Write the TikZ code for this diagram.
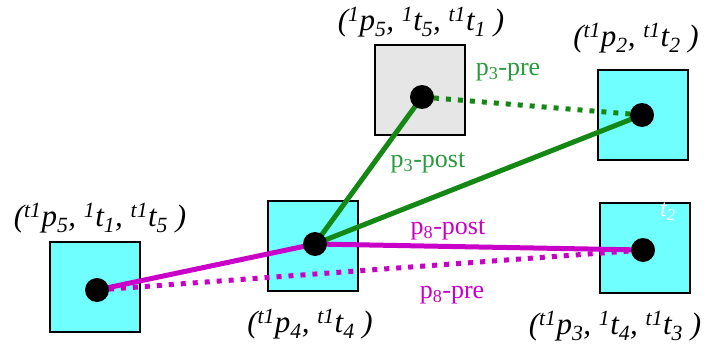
\documentclass[tikz,border=0pt]{standalone}
\usepackage{fontspec}
\setmainfont{Liberation Serif}
\definecolor{cyanfill}{RGB}{112,255,255}
\definecolor{grayfill}{RGB}{230,230,230}
\definecolor{pgreen}{RGB}{20,135,20}
\definecolor{ptext}{RGB}{40,155,60}
\definecolor{pmag}{RGB}{200,0,200}
\newcommand\sUp[1]{\textsuperscript{#1}}
\newcommand\sDn[1]{\textsubscript{#1}}
\tikzset{
  cell/.style={draw=black,line width=2.4pt,minimum width=90pt,minimum height=90pt,inner sep=0pt,fill=cyanfill},
  dotnode/.style={circle,fill=black,minimum size=24pt,inner sep=0pt},
  tuple/.style={font=\fontsize{31}{34}\selectfont\itshape,inner sep=0pt},
  plab/.style={font=\fontsize{26}{28}\selectfont,inner sep=0pt},
  gsolid/.style={pgreen,line width=5pt},
  gdot/.style={pgreen,line width=5pt,dash pattern=on 5pt off 7pt},
  msolid/.style={pmag,line width=5pt},
  mdot/.style={pmag,line width=5pt,dash pattern=on 5pt off 7pt},
}
\begin{document}
\begin{tikzpicture}[x=1pt,y=-1pt]
\useasboundingbox (0,0) rectangle (706,345);
% centres
\coordinate (c1) at (97,290);
\coordinate (c4) at (315,244);
\coordinate (c5) at (422,97);
\coordinate (c2) at (642,115);
\coordinate (c3) at (643,250);
% boxes
\node[cell] (b1) at (95,287) {};
\node[cell] (b4) at (313,246) {};
\node[cell,fill=grayfill] (b5) at (420,90) {};
\node[cell] (b2) at (643,115) {};
\node[cell] (b3) at (645,248) {};
\node[font=\fontsize{24}{26}\selectfont\itshape,text=white,inner sep=0pt] (t2) at (668,212) {t\sDn{2}};
% connectors
\draw[gdot] (c5) -- (c2);
\draw[gsolid] (c5) -- (c4) -- (c2);
\draw[mdot] (c1) -- (c3);
\draw[msolid] (c1) -- (c4) -- (c3);
% dots
\node[dotnode] (d1) at (c1) {};
\node[dotnode] (d4) at (c4) {};
\node[dotnode] (d5) at (c5) {};
\node[dotnode] (d2) at (c2) {};
\node[dotnode] (d3) at (c3) {};
% tuple labels
\node[tuple] (l1) at (100,218) {(\sUp{t1}p\sDn{5}, \sUp{1}t\sDn{1}, \sUp{t1}t\sDn{5} )};
\node[tuple] (l4) at (310,324) {(\sUp{t1}p\sDn{4}, \sUp{t1}t\sDn{4} )};
\node[tuple] (l5) at (421,22) {(\sUp{1}p\sDn{5}, \sUp{1}t\sDn{5}, \sUp{t1}t\sDn{1} )};
\node[tuple] (l2) at (636,38) {(\sUp{t1}p\sDn{2}, \sUp{t1}t\sDn{2} )};
\node[tuple] (l3) at (615,326) {(\sUp{t1}p\sDn{3}, \sUp{1}t\sDn{4}, \sUp{t1}t\sDn{3} )};
% path labels
\node[plab,text=ptext] (p3pre) at (508,72) {p\sDn{3}-pre};
\node[plab,text=ptext] (p3post) at (428,163) {p\sDn{3}-post};
\node[plab,text=pmag] (p8post) at (448,230) {p\sDn{8}-post};
\node[plab,text=pmag] (p8pre) at (452,295) {p\sDn{8}-pre};
\end{tikzpicture}
\end{document}
